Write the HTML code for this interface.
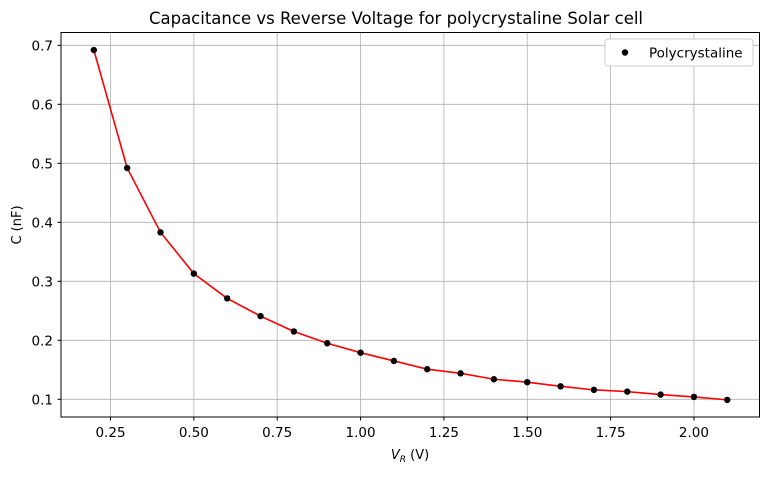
<!DOCTYPE html>
<html><head><meta charset="utf-8"><style>
body{margin:0;background:#fff;font-family:"DejaVu Sans","Liberation Sans",sans-serif}
text{font-family:"DejaVu Sans","Liberation Sans",sans-serif}
</style></head><body>
<svg id="chart" width="768" height="474" xmlns="http://www.w3.org/2000/svg">
<rect width="768" height="474" fill="#fff"/>
<text x="396" y="24" font-size="16.5" text-anchor="middle">Capacitance vs Reverse Voltage for polycrystaline Solar cell</text>
<g id="grid"></g><g id="ticks"></g><g id="series"></g>
<rect x="61" y="32.5" width="698.5" height="384.5" fill="none" stroke="#000" stroke-width="1"/>
<text x="410" y="459" font-size="13" text-anchor="middle"><tspan font-style="italic">V</tspan><tspan font-style="italic" font-size="9" dy="3">R</tspan><tspan dy="-3"> (V)</tspan></text>
<text transform="translate(21,225) rotate(-90)" font-size="13" text-anchor="middle">C (nF)</text>
<g>
<rect x="605" y="39" width="148" height="27" rx="3" fill="#fff" stroke="#ccc" stroke-width="1"/>
<circle cx="625" cy="52.5" r="3.2" fill="#000"/>
<text x="649" y="57.5" font-size="13.5">Polycrystaline</text>
</g>
</svg>
<script>
const voltages=[0.2,0.3,0.4,0.5,0.6,0.7,0.8,0.9,1.0,1.1,1.2,1.3,1.4,1.5,1.6,1.7,1.8,1.9,2.0,2.1];
const capacitance=[0.692,0.492,0.383,0.313,0.271,0.241,0.215,0.195,0.179,0.165,0.151,0.144,0.134,0.129,0.122,0.116,0.113,0.108,0.104,0.099];
const xTicks=[0.25,0.5,0.75,1.0,1.25,1.5,1.75,2.0];
const xTickLabels=["0.25","0.50","0.75","1.00","1.25","1.50","1.75","2.00"];
const yTicks=[0.1,0.2,0.3,0.4,0.5,0.6,0.7];
const yTickLabels=["0.1","0.2","0.3","0.4","0.5","0.6","0.7"];
const NS="http://www.w3.org/2000/svg";
const X=v=>110.5+(v-0.25)*333.4;
const Y=v=>45.3+(0.7-v)*590;
function mk(t,a,p){const e=document.createElementNS(NS,t);for(const k in a)e.setAttribute(k,a[k]);p.appendChild(e);return e;}
const g=document.getElementById('grid'),tk=document.getElementById('ticks'),s=document.getElementById('series');
xTicks.forEach((v,i)=>{
 const l=mk('line',{x1:X(v),x2:X(v),y1:32.5,y2:417,stroke:'#b0b0b0','stroke-width':0.8},g);
 
 
 mk('line',{x1:X(v),x2:X(v),y1:417,y2:420.5,stroke:'#000'},tk);
 const t=mk('text',{x:X(v),y:437,'font-size':13.5,'text-anchor':'middle'},tk);t.textContent=xTickLabels[i];
 
 
});
yTicks.forEach((v,i)=>{
 const l=mk('line',{x1:61,x2:759.5,y1:Y(v),y2:Y(v),stroke:'#b0b0b0','stroke-width':0.8},g);
 
 
 mk('line',{x1:57.5,x2:61,y1:Y(v),y2:Y(v),stroke:'#000'},tk);
 const t=mk('text',{x:53,y:Y(v)+5,'font-size':13.5,'text-anchor':'end'},tk);t.textContent=yTickLabels[i];
 
 
});
const pl=mk('polyline',{points:voltages.map((v,i)=>X(v)+','+Y(capacitance[i])).join(' '),fill:'none',stroke:'#ff0000','stroke-width':1.6},s);


voltages.forEach((v,i)=>{
 const c=mk('circle',{cx:X(v),cy:Y(capacitance[i]),r:3.2,fill:'#000'},s);
 
 
});
</script>
</body></html>
